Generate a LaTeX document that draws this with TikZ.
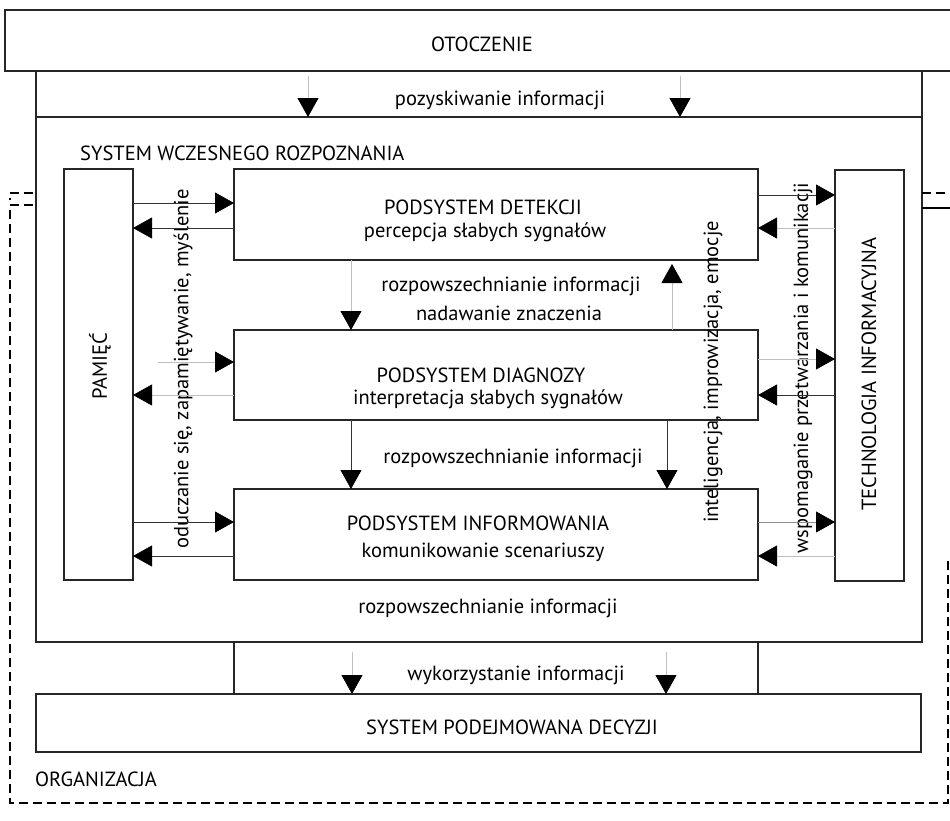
\documentclass[tikz,border=0pt]{standalone}
\usepackage{fontspec}
\setmainfont{PT Sans}
\usetikzlibrary{arrows.meta}
\begin{document}
\begin{tikzpicture}[x=1pt,y=-1pt,
  box/.style={draw=black!85, line width=1.1pt, inner sep=0pt, outer sep=0pt, anchor=north west},
  boxline/.style={draw=black!85, line width=1.1pt},
  lbl/.style={inner sep=0pt, font=\fontsize{20.5}{24}\selectfont},
  rlbl/.style={lbl, rotate=90},
  arr/.style={draw=black!80, line width=0.8pt, -{Triangle[length=19pt,width=21pt,color=black]}},
  farr/.style={arr, draw=black!25},
  dsh/.style={draw=black, line width=2.4pt, dash pattern=on 9pt off 5pt}]
\useasboundingbox (0,0) rectangle (950,820);
\fill[white] (0,0) rectangle (950,820);
% boxes
\node[box, draw=none, minimum width=945pt, minimum height=61pt] (oto) at (5,10) {};
\draw[boxline] (oto.north east) -- (oto.north west) -- (oto.south west) -- (oto.south east);
\node[box, minimum width=886pt, minimum height=46pt] (pozy) at (36,71) {};
\node[box, minimum width=886pt, minimum height=525pt] (swr) at (36,117) {};
\node[box, minimum width=69pt, minimum height=411pt] (pam) at (64,169) {};
\node[box, minimum width=69pt, minimum height=411pt] (tech) at (835,170) {};
\node[box, minimum width=524pt, minimum height=91pt] (det) at (234,169) {};
\node[box, minimum width=524pt, minimum height=90pt] (diag) at (234,330) {};
\node[box, minimum width=524pt, minimum height=91pt] (inf) at (234,489) {};
\node[box, minimum width=524pt, minimum height=52pt] (wyk) at (234,642) {};
\node[box, minimum width=885pt, minimum height=58pt] (dec) at (36,694) {};
% texts
\node[lbl] (tOto) at (482,44) {OTOCZENIE};
\node[lbl] (tPozy) at (500,100) {pozyskiwanie informacji};
\node[lbl, anchor=west] (tSwr) at (80,153) {SYSTEM WCZESNEGO ROZPOZNANIA};
\node[rlbl] (tPam) at (100,366) {PAMIĘĆ};
\node[rlbl] (tTech) at (869,374) {TECHNOLOGIA INFORMACYJNA};
\node[lbl] (tDet1) at (483,207) {PODSYSTEM DETEKCJI};
\node[lbl] (tDet2) at (485,232) {percepcja słabych sygnałów};
\node[lbl] (tR1) at (511,286) {rozpowszechnianie informacji};
\node[lbl] (tNad) at (509,313) {nadawanie znaczenia};
\node[lbl] (tDia1) at (481,375) {PODSYSTEM DIAGNOZY};
\node[lbl] (tDia2) at (488,399) {interpretacja słabych sygnałów};
\node[lbl] (tR2) at (513,458) {rozpowszechnianie informacji};
\node[lbl] (tInf1) at (478,523) {PODSYSTEM INFORMOWANIA};
\node[lbl] (tInf2) at (483,552) {komunikowanie scenariuszy};
\node[lbl] (tR3) at (488,608) {rozpowszechnianie informacji};
\node[lbl] (tWyk) at (516,675) {wykorzystanie informacji};
\node[lbl] (tDec) at (512,727) {SYSTEM PODEJMOWANA DECYZJI};
\node[lbl, anchor=west] (tOrg) at (35,779) {ORGANIZACJA};
\node[rlbl] (tOdu) at (183,369) {oduczanie się, zapamiętywanie, myślenie};
\node[rlbl] (tInt) at (713,372) {inteligencja, improwizacja, emocje};
\node[rlbl] (tWsp) at (803,368) {wspomaganie przetwarzania i komunikacji};
% arrows: environment -> system
\draw[farr, shorten <=5pt] (oto.south -| 308,0) -- (swr.north -| 308,0);
\draw[farr, shorten <=5pt] (oto.south -| 680,0) -- (swr.north -| 680,0);
% memory <-> subsystems
\draw[arr] (pam.east |- 0,203) -- (det.west |- 0,203);
\draw[arr] (det.west |- 0,228) -- (pam.east |- 0,228);
\draw[farr, shorten <=25pt] (pam.east |- 0,362) -- (diag.west |- 0,362);
\draw[farr] (diag.west |- 0,395) -- (pam.east |- 0,395);
\draw[arr] (pam.east |- 0,522) -- (inf.west |- 0,522);
\draw[arr] (inf.west |- 0,556) -- (pam.east |- 0,556);
% subsystems <-> IT
\draw[arr] (det.east |- 0,195) -- (tech.west |- 0,195);
\draw[farr] (tech.west |- 0,228) -- (det.east |- 0,228);
\draw[farr] (diag.east |- 0,359) -- (tech.west |- 0,359);
\draw[arr] (tech.west |- 0,395) -- (diag.east |- 0,395);
\draw[arr, draw=black!45] (inf.east |- 0,522) -- (tech.west |- 0,522);
\draw[farr] (tech.west |- 0,556) -- (inf.east |- 0,556);
% between subsystems
\draw[farr] (det.south -| 351,0) -- (diag.north -| 351,0);
\draw[farr, shorten >=4pt] (diag.north -| 672,0) -- (det.south -| 672,0);
\draw[arr] (diag.south -| 351,0) -- (inf.north -| 351,0);
\draw[arr] (diag.south -| 667,0) -- (inf.north -| 667,0);
% system -> decisions
\draw[farr, shorten <=10pt] (swr.south -| 352,0) -- (dec.north -| 352,0);
\draw[farr, shorten <=10pt] (swr.south -| 666,0) -- (dec.north -| 666,0);
% organisation frame
\draw[dsh] (33,193) -- (10,193) -- (10,200);
\draw[dsh] (33,205) -- (10,205) -- (10,803) -- (948,803) -- (948,557);
\draw[dsh] (922,193) -- (950,193);
\draw[draw=black, line width=1.2pt] (922,208) -- (950,208);
\end{tikzpicture}
\end{document}
